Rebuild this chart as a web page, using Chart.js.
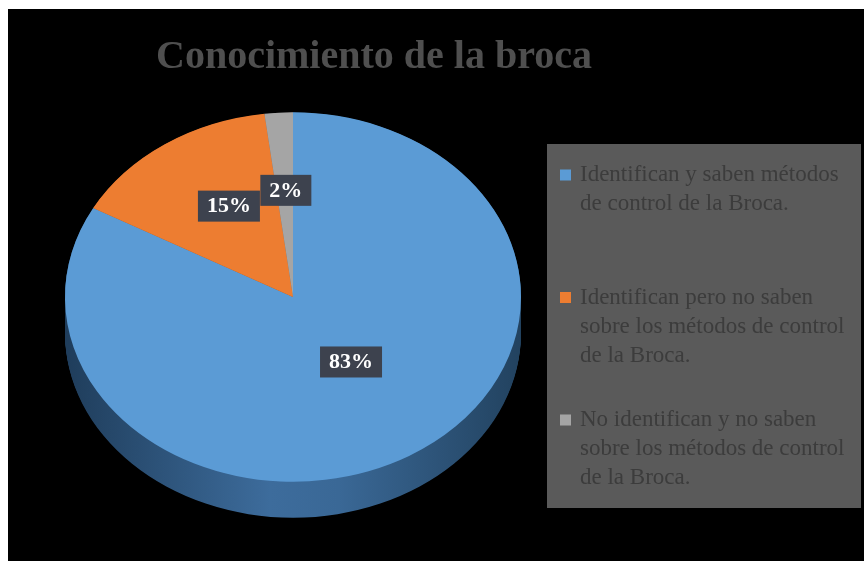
<!DOCTYPE html>
<html>
<head>
<meta charset="utf-8">
<script src="https://cdn.jsdelivr.net/npm/chart.js@4.4.1/dist/chart.umd.min.js"></script>
<style>
  html, body { margin: 0; padding: 0; background: #fff; }
  #wrap { position: absolute; left: 8px; top: 9px; width: 856px; height: 552px; background: #000; }
</style>
</head>
<body>
<div id="wrap"><canvas id="chart" width="856" height="552"></canvas></div>
<script>
const chartTitle = 'Conocimiento de la broca';
const categories = [
    'Identifican y saben métodos de control de la Broca.',
    'Identifican pero no saben sobre los métodos de control de la Broca.',
    'No identifican y no saben sobre los métodos de control de la Broca.'
];
const percentages = [83, 15, 2];
const sliceColors = ['#5b9bd5', '#ed7d31', '#a5a5a5'];
const sideColors = ['#3a6a9a', '#a9561f', '#767676'];

// the pie is squashed vertically to look tilted, with a side band below
const TILT = 0.81;
const DEPTH = 36;

const pie3d = {
    id: 'pie3d',
    beforeDatasetsDraw(chart) {
        const ctx = chart.ctx;
        const arcs = chart.getDatasetMeta(0).data;
        const cx = arcs[0].x, cy = arcs[0].y, r = arcs[0].outerRadius;
        ctx.save();
        ctx.translate(cx, cy);
        ctx.scale(1, TILT);
        ctx.translate(-cx, -cy);
        const grad = ctx.createLinearGradient(cx - r, 0, cx + r, 0);
        grad.addColorStop(0, '#1f3d5b');
        grad.addColorStop(0.45, '#3d6c9c');
        grad.addColorStop(0.6, '#3a6896');
        grad.addColorStop(1, '#22425f');
        const depth = DEPTH / TILT;
        for (let d = depth; d > 0; d -= 1) {
            arcs.forEach((a, i) => {
                ctx.beginPath();
                ctx.moveTo(a.x, a.y + d);
                ctx.arc(a.x, a.y + d, a.outerRadius, a.startAngle, a.endAngle);
                ctx.closePath();
                ctx.fillStyle = i === 0 ? grad : sideColors[i];
                ctx.fill();
            });
        }
    },
    afterDatasetsDraw(chart) {
        chart.ctx.restore();
    }
};

const decorations = {
    id: 'decorations',
    afterDraw(chart) {
        const ctx = chart.ctx;
        const arcs = chart.getDatasetMeta(0).data;
        ctx.save();

        // title
        ctx.font = 'bold 40px "Liberation Serif", "Times New Roman", serif';
        ctx.fillStyle = '#4f4f4f';
        ctx.textAlign = 'center';
        ctx.textBaseline = 'alphabetic';
        ctx.fillText(chartTitle, 366, 59);

        // legend box
        ctx.fillStyle = '#5a5a5a';
        ctx.fillRect(539, 135, 314, 364);
        ctx.font = '23px "Liberation Serif", "Times New Roman", serif';
        ctx.textAlign = 'left';
        ctx.textBaseline = 'middle';
        categories.forEach((label, i) => {
            const y0 = 166 + i * 122.5;
            ctx.fillStyle = sliceColors[i];
            ctx.fillRect(552, y0 - 5.5, 11, 11);
            const words = label.split(' ');
            const lines = [];
            let line = '';
            words.forEach(w => {
                const test = line ? line + ' ' + w : w;
                if (ctx.measureText(test).width > 280 && line) {
                    lines.push(line);
                    line = w;
                } else {
                    line = test;
                }
            });
            lines.push(line);
            ctx.fillStyle = '#3c3c3c';
            lines.forEach((l, k) => ctx.fillText(l, 572, y0 + k * 29));
        });

        // data labels
        ctx.font = 'bold 22px "Liberation Serif", "Times New Roman", serif';
        ctx.textAlign = 'center';
        arcs.forEach((a, i) => {
            const mid = (a.startAngle + a.endAngle) / 2;
            const x = a.x + Math.cos(mid) * a.outerRadius * 0.5;
            const y = a.y + Math.sin(mid) * a.outerRadius * 0.5 * TILT - 15;
            const txt = percentages[i] + '%';
            const w = ctx.measureText(txt).width + 18;
            ctx.fillStyle = '#3d424e';
            ctx.fillRect(x - w / 2, y - 15, w, 31);
            ctx.fillStyle = '#ffffff';
            ctx.fillText(txt, x, y + 1);
        });
        ctx.restore();
    }
};

new Chart(document.getElementById('chart').getContext('2d'), {
    type: 'pie',
    data: {
        labels: categories,
        datasets: [{
            data: percentages,
            backgroundColor: sliceColors,
            borderWidth: 0,
            hoverOffset: 0,
            clip: false
        }]
    },
    options: {
        responsive: false,
        animation: false,
        devicePixelRatio: 1,
        layout: { padding: { left: 57, right: 343, top: 60, bottom: 36 } },
        events: [],
        plugins: {
            legend: { display: false },
            title: { display: false },
            tooltip: { enabled: false }
        }
    },
    plugins: [pie3d, decorations]
});
</script>
</body>
</html>
